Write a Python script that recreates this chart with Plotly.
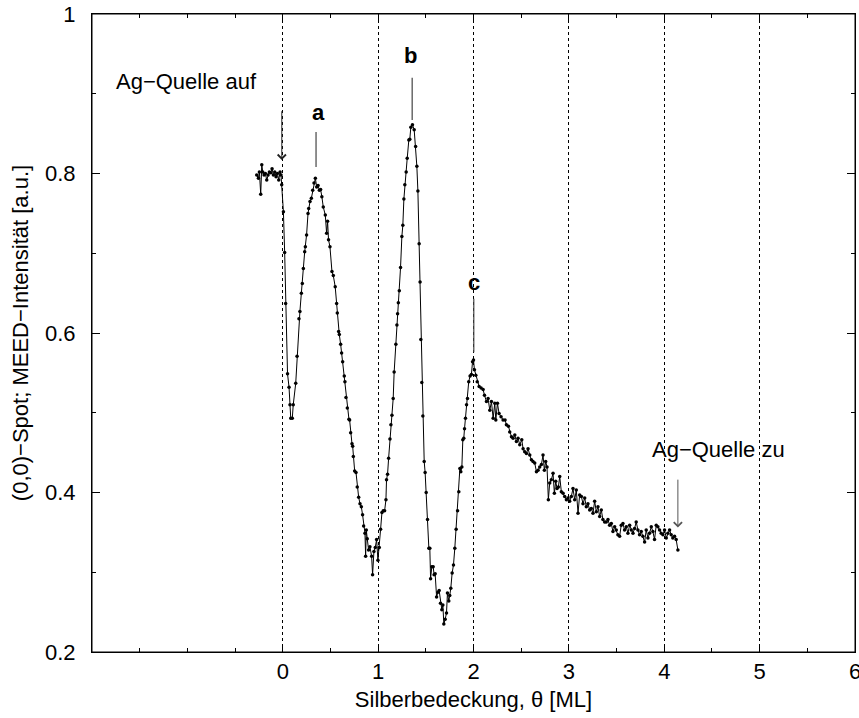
import plotly.graph_objects as go

# ---------------- data ----------------
theta_flat = [-0.273, -0.255, -0.245, -0.231, -0.220, -0.210, -0.196, -0.182, -0.168, -0.154,
              -0.140, -0.126, -0.112, -0.098, -0.084, -0.070, -0.056, -0.042, -0.028, -0.018,
              -0.011]
int_flat = [0.798, 0.794, 0.802, 0.774, 0.811, 0.802, 0.798, 0.800, 0.792, 0.798,
            0.802, 0.801, 0.806, 0.798, 0.802, 0.796, 0.800, 0.792, 0.802, 0.798,
            0.786]

theta_a = [0.007, 0.020, 0.030, 0.050, 0.066, 0.076, 0.084, 0.100, 0.110, 0.136,
           0.150, 0.170, 0.180, 0.195, 0.205, 0.216, 0.230, 0.237, 0.250, 0.265,
           0.272, 0.286, 0.300, 0.314, 0.328, 0.342, 0.356, 0.370, 0.384, 0.397,
           0.410, 0.425, 0.446, 0.460, 0.470, 0.480, 0.495, 0.516, 0.530, 0.550]
int_a = [0.752, 0.701, 0.637, 0.549, 0.532, 0.510, 0.493, 0.493, 0.510, 0.537,
         0.571, 0.618, 0.627, 0.650, 0.662, 0.681, 0.702, 0.708, 0.723, 0.750,
         0.756, 0.765, 0.769, 0.779, 0.788, 0.794, 0.783, 0.785, 0.779, 0.780,
         0.771, 0.758, 0.748, 0.725, 0.740, 0.717, 0.708, 0.677, 0.672, 0.658]

theta_min1 = [0.565, 0.572, 0.586, 0.593, 0.607, 0.617, 0.628, 0.645, 0.652, 0.663,
              0.677, 0.694, 0.701, 0.712, 0.726, 0.733, 0.740, 0.754, 0.768, 0.781,
              0.796, 0.810, 0.824, 0.837, 0.848, 0.862, 0.869, 0.876, 0.886, 0.900,
              0.914, 0.932, 0.942, 0.956, 0.970, 0.984, 0.998, 1.012, 1.026, 1.040,
              1.054, 1.068]
int_min1 = [0.637, 0.625, 0.602, 0.598, 0.586, 0.575, 0.564, 0.546, 0.539, 0.519,
            0.506, 0.492, 0.491, 0.475, 0.461, 0.458, 0.445, 0.427, 0.425, 0.407,
            0.394, 0.386, 0.382, 0.372, 0.358, 0.349, 0.320, 0.353, 0.342, 0.328,
            0.332, 0.320, 0.297, 0.326, 0.331, 0.341, 0.315, 0.331, 0.354, 0.375,
            0.377, 0.377]

theta_b = [1.082, 1.088, 1.099, 1.110, 1.124, 1.134, 1.145, 1.158, 1.168, 1.186,
           1.197, 1.204, 1.212, 1.222, 1.235, 1.249, 1.259, 1.270, 1.280, 1.294,
           1.305, 1.322, 1.332, 1.343, 1.360, 1.378, 1.393, 1.406, 1.417, 1.430,
           1.440, 1.448, 1.458, 1.469]
int_b = [0.391, 0.416, 0.423, 0.443, 0.467, 0.485, 0.497, 0.518, 0.551, 0.586,
         0.610, 0.624, 0.638, 0.653, 0.682, 0.721, 0.735, 0.768, 0.786, 0.802,
         0.819, 0.842, 0.843, 0.858, 0.861, 0.855, 0.834, 0.809, 0.778, 0.712,
         0.664, 0.592, 0.538, 0.496]

theta_c = [1.483, 1.493, 1.504, 1.518, 1.532, 1.542, 1.550, 1.563, 1.577, 1.587,
           1.598, 1.613, 1.627, 1.640, 1.654, 1.668, 1.679, 1.689, 1.703, 1.717,
           1.727, 1.741, 1.751, 1.762, 1.776, 1.790, 1.804, 1.818, 1.833, 1.846,
           1.857, 1.867, 1.878, 1.888, 1.898, 1.906, 1.916, 1.927, 1.937, 1.950,
           1.964, 1.978, 1.990, 2.000, 2.010, 2.024, 2.039]
int_c = [0.439, 0.425, 0.400, 0.366, 0.330, 0.330, 0.292, 0.307, 0.307, 0.297,
         0.298, 0.269, 0.275, 0.277, 0.261, 0.253, 0.259, 0.235, 0.241, 0.249,
         0.274, 0.264, 0.271, 0.280, 0.299, 0.309, 0.330, 0.354, 0.377, 0.401,
         0.430, 0.426, 0.432, 0.466, 0.468, 0.480, 0.493, 0.510, 0.518, 0.539,
         0.546, 0.548, 0.564, 0.566, 0.554, 0.547, 0.539]

theta_tail = [2.059, 2.080, 2.101, 2.115, 2.136, 2.153, 2.171, 2.188, 2.206, 2.223,
              2.234, 2.251, 2.268, 2.289, 2.310, 2.331, 2.345, 2.366, 2.380, 2.398,
              2.415, 2.433, 2.450, 2.467, 2.485, 2.506, 2.520, 2.537, 2.555, 2.572,
              2.590, 2.607, 2.624, 2.642, 2.660, 2.677, 2.694, 2.712, 2.729, 2.743,
              2.757, 2.771, 2.785, 2.799, 2.816, 2.834, 2.848, 2.862, 2.876, 2.890,
              2.904, 2.921, 2.939, 2.956, 2.974, 2.991, 3.008, 3.026, 3.043, 3.061,
              3.078, 3.096, 3.113, 3.131, 3.148, 3.166, 3.183, 3.200, 3.218, 3.235,
              3.253, 3.270, 3.288, 3.305, 3.323, 3.340, 3.357, 3.375, 3.392, 3.410,
              3.427, 3.445, 3.462, 3.480, 3.497, 3.514, 3.532, 3.549, 3.567, 3.584,
              3.602, 3.619, 3.637, 3.654, 3.672, 3.689, 3.706, 3.724, 3.741, 3.759,
              3.776, 3.794, 3.811, 3.829, 3.846, 3.864, 3.881, 3.898, 3.916, 3.933,
              3.951, 3.968, 3.986, 4.003, 4.021, 4.038, 4.056, 4.073, 4.090, 4.108,
              4.125, 4.143]
int_tail = [0.533, 0.531, 0.529, 0.522, 0.514, 0.518, 0.503, 0.514, 0.493, 0.512,
            0.491, 0.512, 0.499, 0.495, 0.491, 0.491, 0.485, 0.483, 0.476, 0.470,
            0.468, 0.472, 0.464, 0.468, 0.460, 0.466, 0.455, 0.451, 0.449, 0.455,
            0.447, 0.441, 0.439, 0.437, 0.426, 0.428, 0.432, 0.435, 0.447, 0.428,
            0.439, 0.432, 0.391, 0.412, 0.416, 0.424, 0.399, 0.414, 0.405, 0.407,
            0.420, 0.401, 0.399, 0.395, 0.391, 0.393, 0.389, 0.395, 0.405, 0.391,
            0.403, 0.374, 0.397, 0.395, 0.386, 0.393, 0.382, 0.386, 0.378, 0.380,
            0.374, 0.389, 0.376, 0.382, 0.370, 0.378, 0.366, 0.363, 0.363, 0.366,
            0.359, 0.361, 0.351, 0.357, 0.353, 0.347, 0.345, 0.359, 0.361, 0.353,
            0.357, 0.349, 0.359, 0.353, 0.349, 0.355, 0.363, 0.353, 0.347, 0.351,
            0.345, 0.338, 0.353, 0.343, 0.349, 0.357, 0.351, 0.341, 0.359, 0.357,
            0.353, 0.349, 0.347, 0.353, 0.343, 0.349, 0.353, 0.347, 0.343, 0.345,
            0.341, 0.328]

x_tick_vals = [0, 1, 2, 3, 4, 5, 6]
x_tick_text = ["0", "1", "2", "3", "4", "5", "6"]
y_tick_vals = [0.2, 0.4, 0.6, 0.8, 1.0]
y_tick_text = ["0.2", "0.4", "0.6", "0.8", "1"]

theta = theta_flat + theta_a + theta_min1 + theta_b + theta_c + theta_tail
intensity = int_flat + int_a + int_min1 + int_b + int_c + int_tail
assert len(theta) == len(intensity)

FONT = "Liberation Sans, Arial, Helvetica, sans-serif"
FS = 22

fig = go.Figure()
fig.add_trace(go.Scatter(
    x=theta, y=intensity, mode="lines+markers",
    line=dict(color="black", width=1),
    marker=dict(color="black", size=3.5),
    showlegend=False, hoverinfo="skip", cliponaxis=False))

# frame
fig.add_shape(type="rect", xref="paper", yref="paper", x0=0, x1=1, y0=0, y1=1,
              line=dict(color="black", width=1), layer="above")

# peak markers a, b, c
peaks = [("a", 0.349, 0.808, 0.852, 0.37, 0.876),
         ("b", 1.357, 0.867, 0.920, 1.335, 0.948),
         ("c", 2.003, 0.576, 0.643, 2.01, 0.663)]
for lab, px, y0, y1, tx, ty in peaks:
    fig.add_shape(type="line", x0=px, x1=px, y0=y0, y1=y1, xref="x", yref="y",
                  line=dict(color="#444", width=1.2))
    fig.add_annotation(x=tx, y=ty, text="<b>%s</b>" % lab, showarrow=False,
                       font=dict(family=FONT, size=FS, color="black"))

# source open / close
fig.add_annotation(x=-1.01, y=0.915, text="Ag\u2212Quelle auf", showarrow=False,
                   font=dict(family=FONT, size=FS, color="black"))
fig.add_annotation(x=-0.01, y=0.817, ax=-0.01, ay=0.88, axref="x", ayref="y",
                   xref="x", yref="y", text="", showarrow=True, arrowhead=4,
                   arrowsize=1.6, arrowwidth=1.0, arrowcolor="#222")
fig.add_annotation(x=4.57, y=0.4545, text="Ag\u2212Quelle zu", showarrow=False,
                   font=dict(family=FONT, size=FS, color="black"))
fig.add_annotation(x=4.143, y=0.356, ax=4.143, ay=0.418, axref="x", ayref="y",
                   xref="x", yref="y", text="", showarrow=True, arrowhead=4,
                   arrowsize=1.6, arrowwidth=1.0, arrowcolor="#555")

fig.update_layout(
    width=859, height=718,
    margin=dict(l=92, r=4, t=14, b=66),
    paper_bgcolor="white", plot_bgcolor="white",
    font=dict(family=FONT, size=FS, color="black"),
    xaxis=dict(
        range=[-2, 6], tickmode="array", tickvals=x_tick_vals, ticktext=x_tick_text,
        ticks="inside", ticklen=8, tickwidth=1, tickcolor="black",
        showline=True, linecolor="black", linewidth=1, mirror="ticks",
        showgrid=True, gridcolor="black", griddash="dot", gridwidth=1,
        zeroline=False, automargin=False, ticklabeloverflow="allow",
        minor=dict(dtick=0.5, tick0=0, ticks="inside", ticklen=4, tickcolor="black",
                   showgrid=False),
        tickfont=dict(family=FONT, size=FS, color="black"),
        title=dict(text="Silberbedeckung, \u03b8 [ML]",
                   font=dict(family=FONT, size=FS, color="black"), standoff=8),
    ),
    yaxis=dict(
        range=[0.2, 1.0], tickmode="array", tickvals=y_tick_vals, ticktext=y_tick_text,
        ticks="inside", ticklen=8, tickwidth=1, tickcolor="black",
        showline=True, linecolor="black", linewidth=1, mirror="ticks",
        showgrid=False, zeroline=False, automargin=False, ticklabelstandoff=11,
        minor=dict(dtick=0.1, tick0=0, ticks="inside", ticklen=4, tickcolor="black",
                   showgrid=False),
        tickfont=dict(family=FONT, size=FS, color="black"),
        title=dict(text="(0,0)\u2212Spot; MEED\u2212Intensit\u00e4t [a.u.]",
                   font=dict(family=FONT, size=FS, color="black"), standoff=10),
    ),
)

fig.write_html("out.html", config={"displayModeBar": False},
               post_script="document.body.style.margin='0';document.body.style.overflow='hidden';")
